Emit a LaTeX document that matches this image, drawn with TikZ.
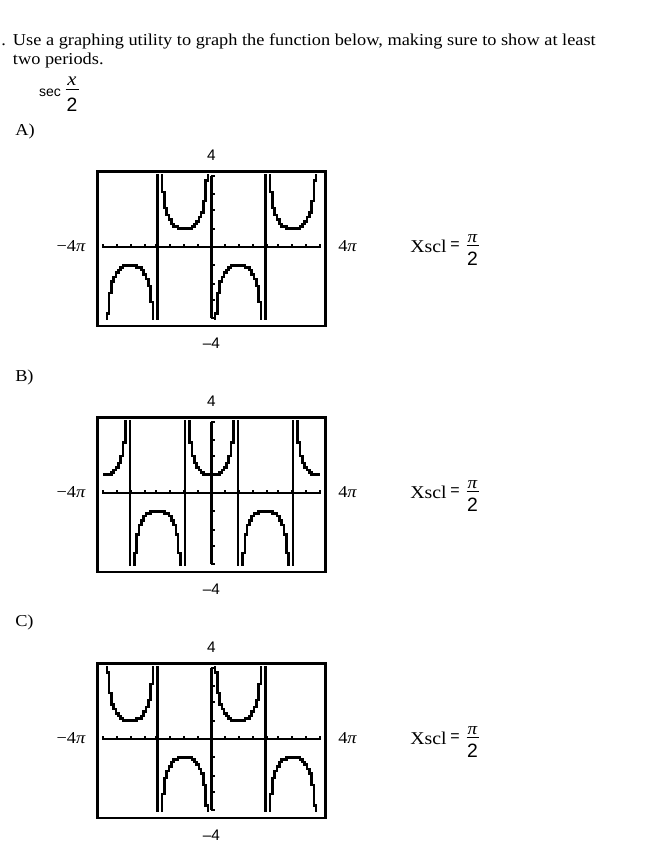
\documentclass[tikz,border=0pt]{standalone}
\usepackage{fontspec}
\setmainfont{Liberation Serif}[FakeStretch=1.1]
\newfontfamily\tisans{Liberation Sans}
\newcommand\tiscreen[2]{%
  \node[tibox] (#1box) at (211.5,#2+1.75) {};
  \coordinate (#1xl) at (103.4,#2);
  \coordinate (#1xr) at (319.6,#2);
  \coordinate (#1yt) at (211.5,#2-71.3);
  \coordinate (#1yb) at (211.5,#2+71.3);
  \draw[tiaxis] (#1xl) -- (#1xr);
  \draw[tiaxis] (#1yt) -- (#1yb);
  \foreach \k in {-8,...,-1,1,2,...,8}{\draw[titick] ({211.5+2.3*round(5.875*\k)},#2+0.8) -- ++(0,-3.6);}
  \foreach \j in {-4,...,-1,1,2,3,4}{\draw[titick] (211,{#2-2.3*round(7.75*\j)}) -- ++(3.8,0);}
  \node[lab] (#1top) at (211.5,#2-92) {4};
  \node[lab] (#1bot) at (211.5,#2+96.5) {\textendash4};
  \node[pilab, anchor=east] (#1left) at (86,#2-0.5) {−4\textit{π}};
  \node[pilab, anchor=west] (#1right) at (338,#2-0.5) {4\textit{π}};
  \node[anchor=base west, inner sep=0pt, font=\fontsize{13.5}{15}\selectfont] (#1xscl) at (410,#2+5.7) {Xscl};
  \node[inner sep=0pt, font=\tisans\fontsize{12}{13}\selectfont] (#1eq) at (455,#2-1) {=};
  \node[inner sep=0pt, font=\itshape\fontsize{13}{14}\selectfont] (#1pi) at (472.5,#2-8.5) {π};
  \coordinate (#1bl) at (466.5,#2-1.5);
  \coordinate (#1br) at (478.5,#2-1.5);
  \draw[fbar] (#1bl) -- (#1br);
  \node[inner sep=0pt, font=\tisans\fontsize{14.5}{16}\selectfont] (#1two) at (472.5,#2+11.5) {2};
}
\newcommand\ticurve[4]{%
  \draw[ticurve] plot[samples at={#2,...,#3}] ({211.5+2.3*(\x-47)},{#1-2.3*round(7.75*max(-6,min(6,#4)))});
}
\newcommand\ticlip[1]{\clip (101,#1-72.5) rectangle (322,#1+72.5);}
\begin{document}
\begin{tikzpicture}[x=0.75pt,y=-0.75pt,
  txt/.style={inner sep=0pt, anchor=base west, font=\fontsize{12.5}{15}\selectfont},
  lab/.style={inner sep=0pt, font=\tisans\fontsize{11.5}{13}\selectfont},
  pilab/.style={inner sep=0pt, font=\fontsize{12.5}{14}\selectfont},
  tibox/.style={draw, line width=1.9pt, inner sep=0pt, minimum width=171pt, minimum height=115.9pt},
  tiaxis/.style={line width=1.8pt},
  titick/.style={line width=1.4pt},
  ticurve/.style={line width=1.9pt, line join=miter, const plot mark mid},
  fbar/.style={line width=0.9pt}
]
\useasboundingbox (0,0) rectangle (650,857);
\fill[white] (0,0) rectangle (650,857);

% question text
\node[txt] (dot) at (1,45.7) {.};
\node[txt] (l1) at (12.7,45.7) {Use a graphing utility to graph the function below, making sure to show at least};
\node[txt] (l2) at (12.7,64.3) {two periods.};
\node[inner sep=0pt, font=\tisans\fontsize{10.5}{12}\selectfont] (sec) at (50,93) {sec};
\node[inner sep=0pt, font=\itshape\fontsize{14}{15}\selectfont] (fx) at (72,81) {x};
\coordinate (fbl) at (65.5,89.5);
\coordinate (fbr) at (78.5,89.5);
\draw[fbar] (fbl) -- (fbr);
\node[inner sep=0pt, font=\tisans\fontsize{14.5}{16}\selectfont] (f2) at (72,104.5) {2};

% choice labels
\node[txt] (la) at (15,135.5) {A)};
\node[txt] (lb) at (15,381.5) {B)};
\node[txt] (lc) at (15,626.5) {C)};

% A
\tiscreen{A}{247}
\begin{scope}
  \ticlip{247}
  \ticurve{247}{1}{46}{-1/sin(-360+7.659574*\x)}
  \ticurve{247}{48}{93}{-1/sin(-360+7.659574*\x)}
\end{scope}

% B
\tiscreen{B}{493}
\begin{scope}
  \ticlip{493}
  \ticurve{493}{0}{94}{1/cos(-360+7.659574*\x)}
\end{scope}

% C
\tiscreen{C}{739}
\begin{scope}
  \ticlip{739}
  \ticurve{739}{1}{46}{1/sin(-360+7.659574*\x)}
  \ticurve{739}{48}{93}{1/sin(-360+7.659574*\x)}
\end{scope}
\end{tikzpicture}
\end{document}
